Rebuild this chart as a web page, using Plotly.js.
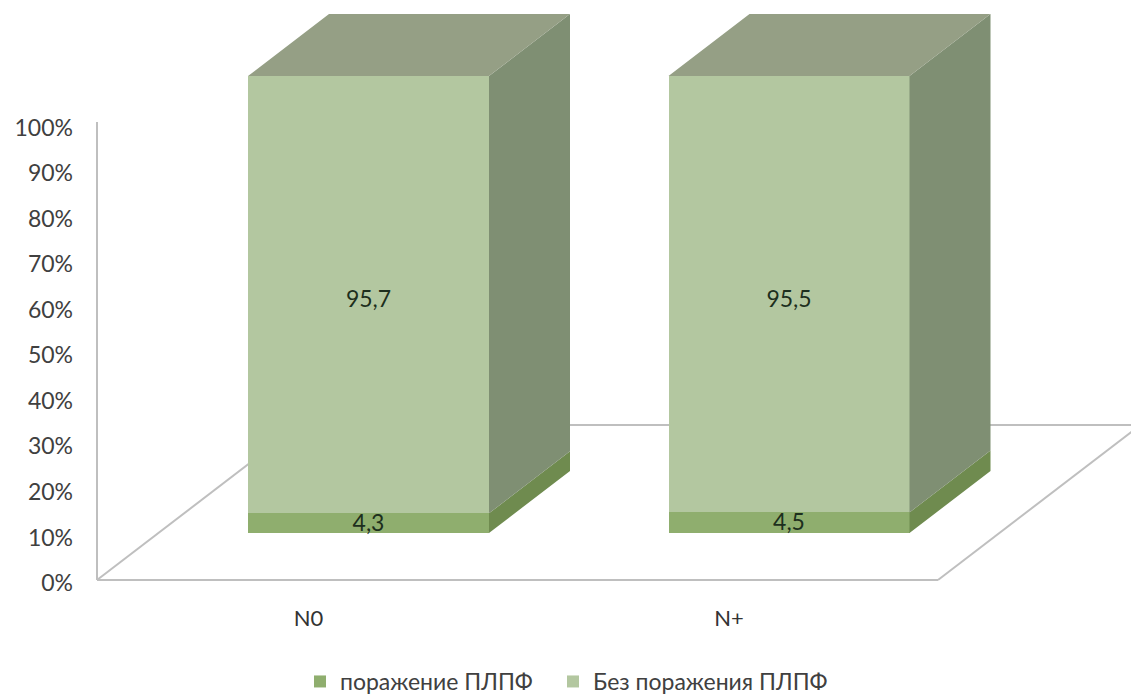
<!DOCTYPE html>
<html>
<head>
<meta charset="utf-8">
<script src="https://cdn.plot.ly/plotly-3.0.1.min.js"></script>
<style>html,body{margin:0;padding:0;background:#fff}</style>
</head>
<body>
<div id="chart" style="width:1131px;height:694px"></div>
<script>
// Share of patients with and without lesions, by nodal status
const categories = ['N0', 'N+'];
const affected = [4.3, 4.5];
const unaffected = [95.7, 95.5];
const affectedName = 'поражение ПЛПФ';
const unaffectedName = 'Без поражения ПЛПФ';
const percentTicks = [0, 10, 20, 30, 40, 50, 60, 70, 80, 90, 100];

// Scale of the value axes and the oblique box depth
const W = 1131, H = 694, plotL = 90, plotB = 600;
const catPx = 420.5, cat0Px = 368.5, barPx = 241;
const valPx = 4.57, basePx = 533;
const depthXpx = 81, depthYpx = 62;
const halfBar = barPx / catPx / 2;
const dx = depthXpx / catPx, dy = depthYpx / valPx;
const xs = categories.map((_, i) => i);
const fontName = 'Lato, sans-serif';

// Side and top faces of each stacked box, in value coordinates
function sideFaces(bases, tops) {
  const x = [], y = [];
  xs.forEach((c, i) => {
    const r = c + halfBar;
    x.push(r, r + dx, r + dx, r, r, null);
    y.push(bases[i], bases[i] + dy, tops[i] + dy, tops[i], bases[i], null);
  });
  return {x, y};
}
function topFaces(tops) {
  const x = [], y = [];
  xs.forEach((c, i) => {
    const l = c - halfBar, r = c + halfBar;
    x.push(l, r, r + dx, l + dx, l, null);
    y.push(tops[i], tops[i], tops[i] + dy, tops[i] + dy, tops[i], null);
  });
  return {x, y};
}
function face(points, color) {
  return {x: points.x, y: points.y, type: 'scatter', mode: 'lines', fill: 'toself',
    fillcolor: color, line: {width: 0, color: color}, hoverinfo: 'skip', showlegend: false};
}
const decimal = v => String(v).replace('.', ',');

const zeros = categories.map(() => 0);
const totals = affected.map((v, i) => v + unaffected[i]);

function barTrace(name, values, color, legendId) {
  return {type: 'bar', name: name, x: xs, y: values, width: barPx / catPx, legend: legendId,
    marker: {color: color, line: {width: 0}}, hoverinfo: 'name+y'};
}
// Value labels sit a little below the middle of their segment
function labelTrace(values, bases, dropPx) {
  return {type: 'scatter', mode: 'text', x: xs,
    y: values.map((v, i) => bases[i] + v / 2 - dropPx / valPx),
    text: values.map(decimal), textposition: 'middle center', cliponaxis: false,
    textfont: {family: fontName, size: 23, color: '#1d2f1d'},
    hoverinfo: 'skip', showlegend: false};
}

const traces = [
  barTrace(affectedName, affected, '#8FAE6E', 'legend'),
  barTrace(unaffectedName, unaffected, '#B3C7A0', 'legend2'),
  face(sideFaces(zeros, affected), '#6F8B4F'),
  face(sideFaces(affected, totals), '#7F8F73'),
  face(topFaces(totals), '#959F85'),
  labelTrace(affected, zeros, 2),
  labelTrace(unaffected, affected, 7),
  // keeps the percent axis attached to the category axis
  {x: [0], y: [0], xaxis: 'x', yaxis: 'y2', type: 'scatter', mode: 'markers',
   marker: {opacity: 0}, hoverinfo: 'skip', showlegend: false}
];

// Floor and wall of the oblique box, drawn behind the columns
const xFromPx = p => (p - cat0Px) / catPx;
const yFromPx = p => (basePx - p) / valPx;
const guide = {color: '#BFBFBF', width: 2};
const line = (x0, y0, x1, y1) => ({type: 'line', layer: 'below', xref: 'x', yref: 'y',
  x0: xFromPx(x0), y0: yFromPx(y0), x1: xFromPx(x1), y1: yFromPx(y1), line: guide});
const floorFront = 580, floorBack = 425;
const run = depthXpx * (floorFront - floorBack) / depthYpx;
const shapes = [
  line(97, 122, 97, floorFront),
  line(97, floorFront, 938, floorFront),
  line(938, floorFront, 938 + run, floorBack),
  line(97, floorFront, 97 + run, floorBack),
  line(97 + run, floorBack, 938 + run, floorBack)
];

// One legend per series, side by side under the chart
const legendAt = px => ({orientation: 'h', x: px / W, xref: 'container', xanchor: 'left',
  y: 0.018, yref: 'container', yanchor: 'middle',
  font: {family: fontName, size: 23, color: '#404040'}});

const labelShiftPx = 60;
const layout = {
  width: W, height: H, showlegend: true, barmode: 'stack',
  paper_bgcolor: '#fff', plot_bgcolor: 'rgba(0,0,0,0)',
  margin: {l: plotL, r: 0, t: 0, b: H - plotB},
  font: {family: fontName, size: 23, color: '#404040'},
  shapes: shapes,
  xaxis: {anchor: 'y2', range: [xFromPx(plotL), xFromPx(W)], showgrid: false, zeroline: false,
    showline: false, tickmode: 'array', tickvals: xs.map(c => c - labelShiftPx / catPx), ticktext: categories,
    ticks: '', ticklabelstandoff: 20, fixedrange: true,
    tickfont: {family: fontName, size: 22, color: '#333333'}},
  yaxis: {domain: [0, 1], anchor: 'x', visible: false, fixedrange: true,
    range: [(basePx - plotB) / valPx, basePx / valPx]},
  yaxis2: {domain: [(plotB - 583) / plotB, (plotB - 127.5) / plotB], anchor: 'free', position: 7 / (W - plotL),
    range: [0, 100], showgrid: false, zeroline: false, showline: false,
    tickmode: 'array', tickvals: percentTicks, ticktext: percentTicks.map(v => v + '%'),
    ticks: '', ticklabelstandoff: 24, fixedrange: true,
    tickfont: {family: fontName, size: 23, color: '#404040'}},
  legend: legendAt(300),
  legend2: legendAt(553)
};

Plotly.newPlot('chart', traces, layout, {displayModeBar: false});
</script>
</body>
</html>
